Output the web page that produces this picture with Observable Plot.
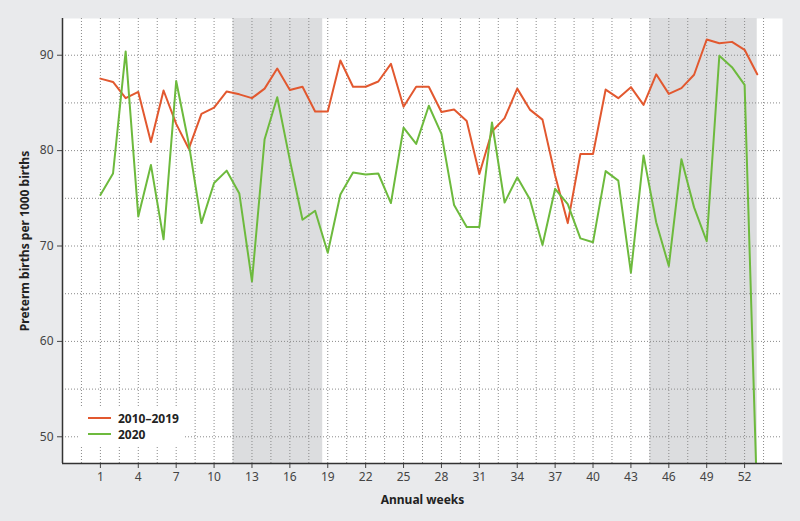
<!DOCTYPE html>
<html>
<head>
<meta charset="utf-8">
<script src="https://cdn.jsdelivr.net/npm/d3@7"></script>
<script src="https://cdn.jsdelivr.net/npm/@observablehq/plot@0.6"></script>
<style>
  html, body { margin: 0; padding: 0; background: #e9eaec; }
  #wrap { position: relative; width: 800px; height: 521px; font-family: "Noto Sans", sans-serif; }
  #legend { position: absolute; left: 78px; top: 408px; width: 105px; height: 37px; background: #fff; }
  .lg { position: absolute; left: 10px; height: 16px; display: flex; align-items: center; font-weight: bold; font-size: 12px; color: #222; }
  .lg span.sw { display: inline-block; width: 23px; height: 2.5px; margin-right: 7px; }
  svg [aria-label="y-axis label"], svg [aria-label="x-axis label"] { font-weight: bold; font-size: 12px; fill: #222; }
</style>
</head>
<body>
<div id="wrap"></div>
<script>
// Data
const weeks = [1,2,3,4,5,6,7,8,9,10,11,12,13,14,15,16,17,18,19,20,21,22,23,24,25,26,27,28,29,30,31,32,33,34,35,36,37,38,39,40,41,42,43,44,45,46,47,48,49,50,51,52,53];
const series2010_2019 = [87.55,87.2,85.5,86.15,80.9,86.3,82.8,80.2,83.85,84.5,
  86.2,85.9,85.5,86.5,88.6,86.35,86.7,84.1,84.1,89.45,
  86.7,86.7,87.25,89.1,84.6,86.7,86.7,84.05,84.3,83.1,
  77.55,82.0,83.4,86.5,84.3,83.25,77.4,72.4,79.65,79.65,
  86.4,85.5,86.65,84.8,88.0,85.95,86.55,87.95,91.65,91.26,
  91.4,90.57,88.0];
const series2020 = [75.35,77.6,90.4,73.1,78.5,70.7,87.3,80.7,72.4,76.6,
  77.9,75.5,66.3,81.2,85.6,79.0,72.75,73.7,69.3,75.4,
  77.7,77.5,77.6,74.5,82.4,80.7,84.7,81.75,74.3,72.0,
  72.0,82.95,74.55,77.2,74.9,70.1,76.0,74.4,70.8,70.4,
  77.85,76.85,67.2,79.5,72.5,67.9,79.1,74.05,70.5,89.95,
  88.75,86.9,43.0];
const seriesNames = ["2010–2019", "2020"];
const seriesColors = ["#e2582f", "#6dba3d"];
const xTicks = [1,4,7,10,13,16,19,22,25,28,31,34,37,40,43,46,49,52];
const yTicks = [50,60,70,80,90];
const yGrid = [50,55,60,65,70,75,80,85,90];
const xGrid = [-0.5,1,2.5,4,5.5,7,8.5,10,11.5,13,14.5,16,17.5,19,20.5,22,23.5,25,26.5,28,29.5,31,32.5,34,35.5,37,38.5,40,41.5,43,44.5,46,47.5,49,50.5,52,53.5];
const shadeStart = [11.5, 44.5];
const shadeEnd = [18.6, 53];
const xDomain = [-2, 55];
const yDomain = [47.2, 93.85];

const rows = [];
weeks.forEach((w, i) => {
  rows.push({week: w, value: series2010_2019[i], series: seriesNames[0]});
});
weeks.forEach((w, i) => {
  rows.push({week: w, value: series2020[i], series: seriesNames[1]});
});
const shades = shadeStart.map((s, i) => ({x1: s, x2: shadeEnd[i]}));

const chart = Plot.plot({
  width: 800,
  height: 521,
  marginLeft: 62,
  marginRight: 18,
  marginTop: 18,
  marginBottom: 58,
  style: {background: "transparent", fontFamily: "Noto Sans, sans-serif", fontSize: "12px", color: "#444"},
  x: {domain: xDomain, ticks: xTicks, tickSize: 5, tickPadding: 4, label: "Annual weeks", labelAnchor: "center", labelOffset: 40, labelArrow: false},
  y: {domain: yDomain, ticks: yTicks, tickSize: 5, tickPadding: 4, label: "Preterm births per 1000 births", labelAnchor: "center", labelOffset: 42, labelArrow: false},
  color: {domain: seriesNames, range: seriesColors},
  marks: [
    Plot.frame({fill: "white", stroke: null}),
    Plot.rectY(shades, {x1: "x1", x2: "x2", y1: yDomain[0], y2: yDomain[1], fill: "#dcdddf"}),
    Plot.ruleX(xGrid, {stroke: "#8a8a8a", strokeDasharray: "1,2", strokeWidth: 1}),
    Plot.ruleY(yGrid, {stroke: "#8a8a8a", strokeDasharray: "1,2", strokeWidth: 1}),
    Plot.line(rows, {x: "week", y: "value", z: "series", stroke: "series", strokeWidth: 2, clip: true}),
    Plot.ruleX([xDomain[0]], {stroke: "#333", strokeWidth: 1.5}),
    Plot.ruleY([yDomain[0]], {stroke: "#333", strokeWidth: 1.5})
  ]
});
const wrap = document.getElementById("wrap");
wrap.appendChild(chart);

const legend = document.createElement("div");
legend.id = "legend";
seriesNames.forEach((name, i) => {
  const row = document.createElement("div");
  row.className = "lg";
  row.style.top = (2 + i * 16) + "px";
  const sw = document.createElement("span");
  sw.className = "sw";
  sw.style.background = seriesColors[i];
  row.appendChild(sw);
  row.appendChild(document.createTextNode(name));
  legend.appendChild(row);
});
wrap.appendChild(legend);
</script>
</body>
</html>
